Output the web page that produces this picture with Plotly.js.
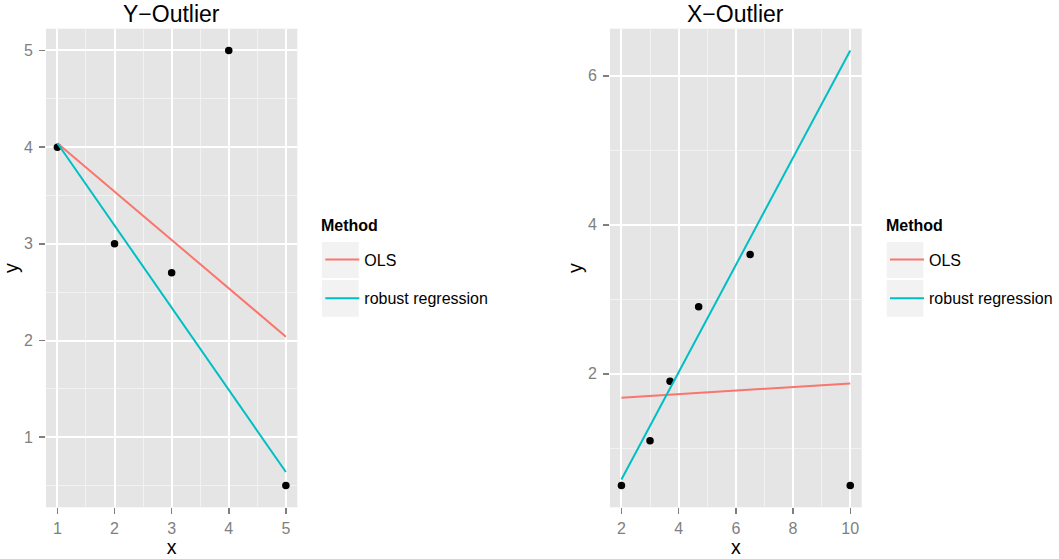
<!DOCTYPE html>
<html>
<head>
<meta charset="utf-8">
<script src="https://cdn.plot.ly/plotly-3.0.1.min.js"></script>
<style>
  html, body { margin: 0; padding: 0; background: #ffffff; }
  #chart { width: 1059px; height: 559px; }
</style>
</head>
<body>
<div id="chart"></div>
<script>
// Y-outlier example: observed points and the two fitted lines
var yOutX = [1, 2, 3, 4, 5];
var yOutY = [4, 3, 2.7, 5, 0.5];
var yFitX = [1, 5];
var yOlsY = [4.04, 2.04];
var yRobustY = [4.04, 0.64];

// X-outlier example: observed points and the two fitted lines
var xOutX = [2, 3, 3.7, 4.7, 6.5, 10];
var xOutY = [0.5, 1.1, 1.9, 2.9, 3.6, 0.5];
var xFitX = [2, 10];
var xOlsY = [1.68, 1.87];
var xRobustY = [0.58, 6.34];

var methods = ['OLS', 'robust regression'];
var methodColors = ['#F8766D', '#00BFC4'];
var panelTitles = ['Y\u2212Outlier', 'X\u2212Outlier'];
var legendTitle = 'Method';

var FONT = '"Liberation Sans", Arial, Helvetica, sans-serif';
var W = 1059, H = 559;

function pointsTrace(x, y, xa, ya) {
  return {
    type: 'scatter', mode: 'markers', x: x, y: y, xaxis: xa, yaxis: ya,
    marker: { color: '#000000', size: 7.5 },
    showlegend: false, hoverinfo: 'x+y'
  };
}
function fitTrace(x, y, i, xa, ya, legendId) {
  return {
    type: 'scatter', mode: 'lines', x: x, y: y, xaxis: xa, yaxis: ya,
    name: methods[i], legendgroup: legendId + '-' + i, legend: legendId,
    line: { color: methodColors[i], width: 2 }
  };
}

var traces = [
  pointsTrace(yOutX, yOutY, 'x', 'y'),
  fitTrace(yFitX, yOlsY, 0, 'x', 'y', 'legend'),
  fitTrace(yFitX, yRobustY, 1, 'x', 'y', 'legend'),
  pointsTrace(xOutX, xOutY, 'x2', 'y2'),
  fitTrace(xFitX, xOlsY, 0, 'x2', 'y2', 'legend2'),
  fitTrace(xFitX, xRobustY, 1, 'x2', 'y2', 'legend2')
];

// pixel geometry of the two panels
var panels = [
  { left: 46, right: 297.3, keyLeft: 322 },
  { left: 610, right: 861.7, keyLeft: 886.7 }
];
var panelTop = 28.7, panelBottom = 507.3;
var yDomain = [1 - panelBottom / H, 1 - panelTop / H];

function axisBase(extra) {
  var a = {
    showgrid: true, gridcolor: '#FFFFFF', gridwidth: 2,
    zeroline: false, showline: false,
    ticks: 'outside', ticklen: 6, tickwidth: 1.5, tickcolor: '#7F7F7F',
    tickfont: { family: FONT, size: 16, color: '#7F7F7F' },
    fixedrange: true, automargin: false
  };
  for (var k in extra) a[k] = extra[k];
  return a;
}
function minorGrid(step) {
  return { dtick: step, showgrid: true, gridcolor: '#F2F2F2', gridwidth: 1, ticks: '' };
}
function axisTitle(t, standoff) {
  return { text: t, standoff: standoff, font: { family: FONT, size: 19.5, color: '#000000' } };
}
function legendBox(kx) {
  return {
    x: (kx - 1.7) / W, y: 1 - 242.5 / H, xanchor: 'left', yanchor: 'top',
    bgcolor: 'rgba(0,0,0,0)', borderwidth: 0, tracegroupgap: 15, itemwidth: 34,
    font: { family: FONT, size: 16, color: '#000000' }
  };
}

var layout = {
  width: W, height: H,
  margin: { l: 0, r: 0, t: 0, b: 0 },
  paper_bgcolor: '#FFFFFF',
  plot_bgcolor: '#E5E5E5',
  font: { family: FONT, color: '#000000' },
  xaxis: axisBase({
    domain: [panels[0].left / W, panels[0].right / W], anchor: 'y',
    range: [0.8, 5.2], tickmode: 'linear', tick0: 1, dtick: 1, minor: minorGrid(0.5),
    title: axisTitle('x', 2)
  }),
  yaxis: axisBase({
    domain: yDomain, anchor: 'x', ticklabelstandoff: 3,
    range: [0.275, 5.225], tickmode: 'linear', tick0: 1, dtick: 1, minor: minorGrid(0.5),
    title: axisTitle('y', 0)
  }),
  xaxis2: axisBase({
    domain: [panels[1].left / W, panels[1].right / W], anchor: 'y2',
    range: [1.6, 10.4], tickmode: 'linear', tick0: 2, dtick: 2, minor: minorGrid(1),
    title: axisTitle('x', 2)
  }),
  yaxis2: axisBase({
    domain: yDomain, anchor: 'x2', ticklabelstandoff: 3,
    range: [0.208, 6.632], tickmode: 'linear', tick0: 2, dtick: 2, minor: minorGrid(1),
    title: axisTitle('y', 0)
  }),
  legend: legendBox(panels[0].keyLeft),
  legend2: legendBox(panels[1].keyLeft),
  annotations: [],
  shapes: []
};

// panel titles
['x', 'x2'].forEach(function (xa, i) {
  layout.annotations.push({
    text: panelTitles[i], xref: xa + ' domain', yref: 'paper',
    x: 0.5, y: 1 - 14 / H, xanchor: 'center', yanchor: 'middle',
    showarrow: false, font: { family: FONT, size: 23, color: '#000000' }
  });
});

panels.forEach(function (p) {
  // legend heading
  layout.annotations.push({
    text: '<b>' + legendTitle + '</b>', xref: 'paper', yref: 'paper',
    x: (p.keyLeft - 3) / W, y: 1 - 225.5 / H, xanchor: 'left', yanchor: 'middle',
    showarrow: false, font: { family: FONT, size: 16, color: '#000000' }
  });
  // grey key backgrounds behind each legend entry
  [[242, 278], [280, 316.7]].forEach(function (ky) {
    layout.shapes.push({
      type: 'rect', xref: 'paper', yref: 'paper', layer: 'above',
      x0: p.keyLeft / W, x1: (p.keyLeft + 36.7) / W, y0: 1 - ky[1] / H, y1: 1 - ky[0] / H,
      fillcolor: '#F2F2F2', line: { width: 0 }
    });
  });
});

Plotly.newPlot('chart', traces, layout, { displayModeBar: false, staticPlot: true });
</script>
</body>
</html>
